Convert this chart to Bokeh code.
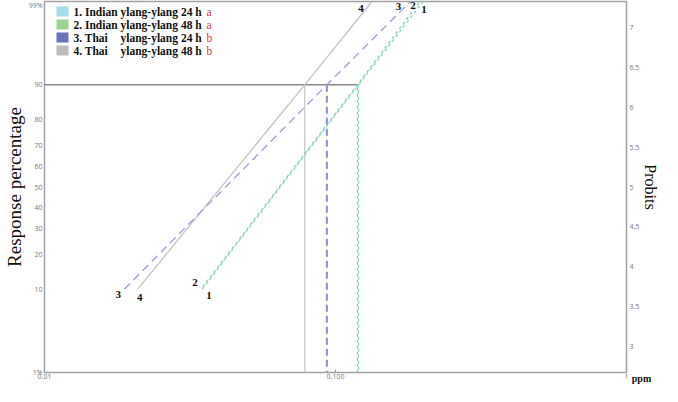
from statistics import NormalDist
from bokeh.plotting import figure
from bokeh.models import LinearAxis, Range1d, FixedTicker, Label, BoxAnnotation
from bokeh.embed import file_html
from bokeh.resources import INLINE

# ---------------- data ----------------
series_ids = ["1", "2", "3", "4"]
series_origin = ["1. Indian", "2. Indian", "3. Thai", "4. Thai"]
series_desc = ["ylang-ylang 24 h", "ylang-ylang 48 h", "ylang-ylang 24 h", "ylang-ylang 48 h"]
series_group = ["a", "a", "b", "b"]
response_pct = [10, 90, 99]
dose_1 = [0.0348, 0.120, 0.200]
dose_2 = [0.0345, 0.119, 0.195]
dose_3 = [0.0188, 0.0934, 0.181]
dose_4 = [0.0209, 0.0784, 0.1335]
left_tick_pct = [1, 10, 20, 30, 40, 50, 60, 70, 80, 90, 99]
left_tick_labels = ["1%", "10", "20", "30", "40", "50", "60", "70", "80", "90", "99%"]
right_ticks = [3, 3.5, 4, 4.5, 5, 5.5, 6, 6.5, 7]
right_tick_labels = ["3", "3.5", "4", "4.5", "5", "5.5", "6", "6.5", "7"]
x_ticks = [0.01, 0.1, 1]
x_tick_labels = ["0.01", "0.100", "1"]
x_unit = "ppm"
lc_level_pct = 90

# ---------------- styles ----------------
line_colors = ["#84d4e6", "#8fd08c", "#9a9de0", "#c4c4c4"]
swatch_colors = ["#a3dbe8", "#9dd391", "#6a72ba", "#bdbdbd"]
line_dashes = ["3 3", "3 3", "8 5", "solid"]
dash_offsets = [0, 3, 0, 0]
SERIF = "Liberation Serif"
SANS = "Open Sans"
W, H = 662, 386
BL, BR, BT, BB = 36, 27, 1, 11


def probit(p):
    return NormalDist().inv_cdf(p / 100.0) + 5.0


doses = [dose_1, dose_2, dose_3, dose_4]
resp_probit = [probit(v) for v in response_pct]
y_lo, y_hi = probit(1), probit(99)

p = figure(width=W, height=H, x_axis_type="log",
           x_range=Range1d(0.01, 1), y_range=Range1d(y_lo - 1e-9, y_hi + 1e-9),
           output_backend="svg", toolbar_location=None,
           min_border_left=BL, min_border_right=BR, min_border_top=BT,
           min_border_bottom=BB)
p.grid.visible = False
p.outline_line_color = "#a2a2a2"
p.outline_line_width = 1.5
p.background_fill_color = "white"
p.border_fill_color = "white"

# x axis, with the unit written at its right end
xa = p.xaxis[0]
xa.ticker = FixedTicker(ticks=x_ticks)
xa.major_label_overrides = dict(zip(x_ticks, x_tick_labels))
xa.major_label_text_font = SANS
xa.major_label_text_font_size = "7px"
xa.major_label_text_color = "#777777"
xa.major_label_standoff = 1
xa.major_tick_in = 3
xa.major_tick_out = 0
xa.major_tick_line_color = "#999999"
xa.minor_tick_line_color = None
xa.axis_line_color = None
if "axis_label_align" in xa.properties():
    xa.axis_label = "\u2003\u2003\u2003" + x_unit
    xa.axis_label_align = "end"
    xa.axis_label_standoff = -9
    xa.axis_label_text_font = SERIF
    xa.axis_label_text_font_style = "bold"
    xa.axis_label_text_font_size = "10px"
    xa.axis_label_text_color = "#111111"

# left axis (response percentage on probit scale)
ya = p.yaxis[0]
lt = [probit(v) for v in left_tick_pct]
ya.ticker = FixedTicker(ticks=lt)
ya.major_label_overrides = dict(zip(lt, left_tick_labels))
ya.major_label_text_font = SANS
ya.major_label_text_font_size = "7px"
ya.major_label_text_color = "#777777"
ya.major_label_standoff = 2
ya.major_tick_in = 0
ya.major_tick_out = 0
ya.minor_tick_line_color = None
ya.axis_line_color = None
ya.axis_label = "Response percentage"
ya.axis_label_text_font = SERIF
ya.axis_label_text_font_style = "normal"
ya.axis_label_text_font_size = "19px"
ya.axis_label_text_color = "#111111"
ya.axis_label_standoff = 1

# right axis (probits)
ra = LinearAxis(ticker=FixedTicker(ticks=right_ticks))
ra.major_label_overrides = dict(zip(right_ticks, right_tick_labels))
ra.major_label_text_font = SANS
ra.major_label_text_font_size = "7px"
ra.major_label_text_color = "#777777"
ra.major_label_standoff = 3
ra.major_tick_in = 0
ra.major_tick_out = 0
ra.minor_tick_line_color = None
ra.axis_line_color = None
ra.axis_label = "Probits"
ra.axis_label_text_font = SERIF
ra.axis_label_text_font_style = "normal"
ra.axis_label_text_font_size = "16px"
ra.axis_label_text_color = "#111111"
ra.axis_label_standoff = 0
p.add_layout(ra, "right")

fh = H - BT - BB

# 90% reference lines
lc_p = probit(lc_level_pct)
i90 = response_pct.index(lc_level_pct)
p.segment(x0=[0.01], y0=[lc_p], x1=[max(d[i90] for d in doses)], y1=[lc_p],
          line_color="#8a8a8a", line_width=1.5)
drop_colors = ["#84d4e6", "#8fd08c", "#8a8ed8", "#c4c4c4"]
drop_widths = [1.3, 1.3, 2.0, 1.2]
drop_dashes = ["3 3", "3 3", "7 4", "solid"]
for i in [3, 0, 1, 2]:
    p.segment(x0=[doses[i][i90]], y0=[lc_p], x1=[doses[i][i90]], y1=[y_lo],
              line_color=drop_colors[i], line_width=drop_widths[i],
              line_dash=drop_dashes[i], line_dash_offset=dash_offsets[i])

# probit lines
for i in [3, 2, 0, 1]:
    p.line(x=doses[i], y=resp_probit, line_color=line_colors[i], line_width=1.3,
           line_dash=line_dashes[i], line_dash_offset=dash_offsets[i])

# line-end labels
start_off = [(7, -6), (-6, 7), (-6, -5), (2, -8)]
end_off = [(1, -8), (-7, -4), (-12, -5), (-11, -7)]
for i in range(4):
    for (k, off) in ((0, start_off[i]), (-1, end_off[i])):
        p.add_layout(Label(x=doses[i][k], y=resp_probit[k], x_offset=off[0], y_offset=off[1],
                           text=series_ids[i], text_font=SERIF, text_font_style="bold",
                           text_font_size="11px", text_align="center",
                           text_baseline="middle", text_color="#111111"))

# legend (drawn manually, relative to the frame in screen units)
for i in range(4):
    yc = fh - 13 - 13 * i
    p.add_layout(BoxAnnotation(left=12, right=24, top=yc + 5, bottom=yc - 5,
                               left_units="screen", right_units="screen",
                               top_units="screen", bottom_units="screen",
                               fill_color=swatch_colors[i], fill_alpha=1.0,
                               line_color=None))
    common = dict(y=yc, x_units="screen", y_units="screen", text_font=SERIF,
                  text_font_size="11.5px", text_baseline="middle")
    p.add_layout(Label(x=29, text=series_origin[i], text_font_style="bold",
                       text_color="#111111", **common))
    p.add_layout(Label(x=76, text=series_desc[i], text_font_style="bold",
                       text_color="#111111", **common))
    p.add_layout(Label(x=162, text=series_group[i], text_font_style="normal",
                       text_color="#e8343c", **common))

open("out.html", "w").write(file_html(p, INLINE))
